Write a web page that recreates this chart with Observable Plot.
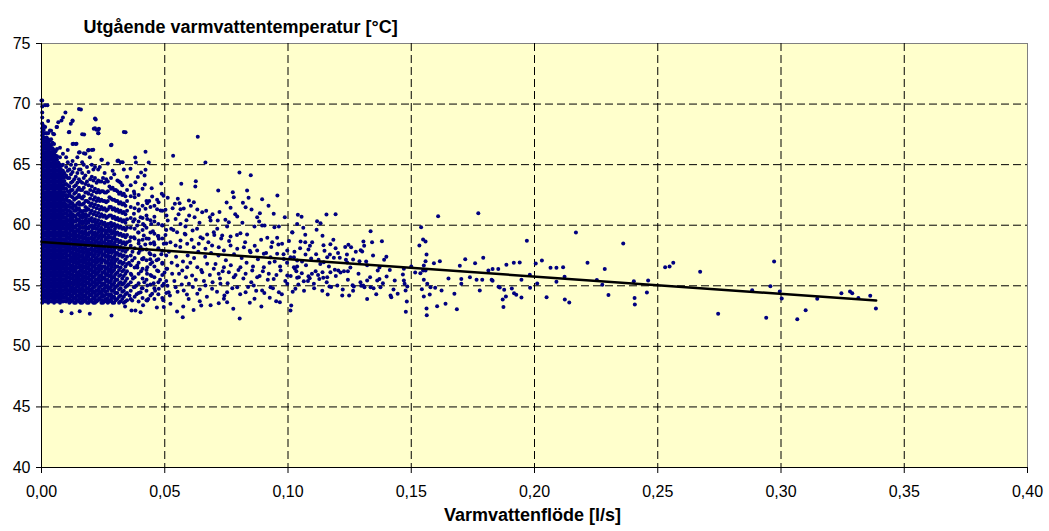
<!DOCTYPE html>
<html><head><meta charset="utf-8">
<script src="https://cdn.jsdelivr.net/npm/d3@7"></script>
<script src="https://cdn.jsdelivr.net/npm/@observablehq/plot@0.6"></script>
<style>body{margin:0;background:#fff;}</style>
</head><body><div id="chart"></div>
<script>
const xTicks = [0, 0.05, 0.10, 0.15, 0.20, 0.25, 0.30, 0.35, 0.40];
const yTicks = [40, 45, 50, 55, 60, 65, 70, 75];
const chartTitle = "Utgående varmvattentemperatur [°C]";
const xTitle = "Varmvattenflöde [l/s]";

// dense core near zero flow (read column by column)
const coreFlow = [0.0003, 0.0015, 0.0027, 0.0039, 0.0051, 0.0063, 0.0075, 0.0087];
const coreTemp = [
 [53.6,53.9,54.2,54.5,54.8,55.1,55.4,55.7,56.0,56.3,56.6,56.9,57.2,57.5,57.8,58.1,58.4,58.7,59.0,59.3,59.6,59.9,60.2,60.5,60.8,61.1,61.4,61.7,62.0,62.3,62.6,62.9,63.2,63.5,63.8,64.1,64.4,64.7,65.0,65.3,65.6,65.9,66.2,66.5,66.8,67.1,67.4,67.7,68.0,68.4,68.9,69.3,69.8,70.3],
 [53.7,54.0,54.3,54.6,54.9,55.2,55.5,55.8,56.1,56.4,56.7,57.0,57.3,57.6,57.9,58.2,58.5,58.8,59.1,59.4,59.7,60.0,60.3,60.6,60.9,61.2,61.5,61.8,62.1,62.4,62.7,63.0,63.3,63.6,63.9,64.2,64.5,64.8,65.1,65.4,65.7,66.0,66.3,66.6,66.9,67.2,67.6,68.1,69.9],
 [53.6,53.9,54.2,54.5,54.8,55.1,55.4,55.7,56.0,56.3,56.6,56.9,57.2,57.5,57.8,58.1,58.4,58.7,59.0,59.3,59.6,59.9,60.2,60.5,60.8,61.1,61.4,61.7,62.0,62.3,62.6,62.9,63.2,63.5,63.8,64.1,64.4,64.7,65.0,65.3,65.6,65.9,66.2,66.5,66.8,67.1,67.6,68.6],
 [53.7,54.0,54.3,54.6,54.9,55.2,55.5,55.8,56.1,56.4,56.7,57.0,57.3,57.6,57.9,58.2,58.5,58.8,59.1,59.4,59.7,60.0,60.3,60.6,60.9,61.2,61.5,61.8,62.1,62.4,62.7,63.0,63.3,63.6,63.9,64.2,64.5,64.8,65.1,65.4,65.7,66.0,66.3,66.6,67.1,67.8],
 [53.6,53.9,54.2,54.5,54.8,55.1,55.4,55.7,56.0,56.3,56.6,56.9,57.2,57.5,57.8,58.1,58.4,58.7,59.0,59.3,59.6,59.9,60.2,60.5,60.8,61.1,61.4,61.7,62.0,62.3,62.6,62.9,63.2,63.5,63.8,64.1,64.4,64.7,65.0,65.3,65.6,65.9,66.2,66.7,67.5],
 [53.7,54.0,54.3,54.6,54.9,55.2,55.5,55.8,56.1,56.4,56.7,57.0,57.3,57.6,57.9,58.2,58.5,58.8,59.1,59.4,59.7,60.0,60.3,60.6,60.9,61.2,61.5,61.8,62.1,62.4,62.7,63.0,63.3,63.6,63.9,64.2,64.5,64.8,65.1,65.4,65.7,66.3,68.1],
 [53.6,53.9,54.2,54.5,54.8,55.1,55.4,55.7,56.0,56.3,56.6,56.9,57.2,57.5,57.8,58.1,58.4,58.7,59.0,59.3,59.6,59.9,60.2,60.5,60.8,61.1,61.4,61.7,62.0,62.3,62.6,62.9,63.2,63.5,63.8,64.1,64.4,64.7,65.0,65.6,66.4],
 [53.7,54.0,54.3,54.6,54.9,55.2,55.5,55.8,56.1,56.4,56.7,57.0,57.3,57.6,57.9,58.2,58.5,58.8,59.1,59.4,59.7,60.0,60.3,60.6,60.9,61.2,61.5,61.8,62.1,62.4,62.7,63.0,63.3,63.6,63.9,64.2,64.5,65.0,65.9,68.9]
];

// dense core, interleaved columns
const coreFlowB = [0.0009, 0.0021, 0.0033, 0.0045, 0.0057, 0.0069, 0.0081, 0.0093];
const coreTempB = [
 [53.75,54.05,54.35,54.65,54.95,55.25,55.55,55.85,56.15,56.45,56.75,57.05,57.35,57.65,57.95,58.25,58.55,58.85,59.15,59.45,59.75,60.05,60.35,60.65,60.95,61.25,61.55,61.85,62.15,62.45,62.75,63.05,63.35,63.65,63.95,64.25,64.55,64.85,65.15,65.45,65.75,66.05,66.35,66.65,66.95,67.25,67.55,67.85,68.2],
 [53.75,54.05,54.35,54.65,54.95,55.25,55.55,55.85,56.15,56.45,56.75,57.05,57.35,57.65,57.95,58.25,58.55,58.85,59.15,59.45,59.75,60.05,60.35,60.65,60.95,61.25,61.55,61.85,62.15,62.45,62.75,63.05,63.35,63.65,63.95,64.25,64.55,64.85,65.15,65.45,65.75,66.05,66.35,66.65,66.95,67.25,67.6],
 [53.75,54.05,54.35,54.65,54.95,55.25,55.55,55.85,56.15,56.45,56.75,57.05,57.35,57.65,57.95,58.25,58.55,58.85,59.15,59.45,59.75,60.05,60.35,60.65,60.95,61.25,61.55,61.85,62.15,62.45,62.75,63.05,63.35,63.65,63.95,64.25,64.55,64.85,65.15,65.45,65.75,66.05,66.35,66.65,66.95],
 [53.75,54.05,54.35,54.65,54.95,55.25,55.55,55.85,56.15,56.45,56.75,57.05,57.35,57.65,57.95,58.25,58.55,58.85,59.15,59.45,59.75,60.05,60.35,60.65,60.95,61.25,61.55,61.85,62.15,62.45,62.75,63.05,63.35,63.65,63.95,64.25,64.55,64.85,65.15,65.45,65.75,66.05,66.35,66.8],
 [53.75,54.05,54.35,54.65,54.95,55.25,55.55,55.85,56.15,56.45,56.75,57.05,57.35,57.65,57.95,58.25,58.55,58.85,59.15,59.45,59.75,60.05,60.35,60.65,60.95,61.25,61.55,61.85,62.15,62.45,62.75,63.05,63.35,63.65,63.95,64.25,64.55,64.85,65.15,65.45,65.75,66.1],
 [53.75,54.05,54.35,54.65,54.95,55.25,55.55,55.85,56.15,56.45,56.75,57.05,57.35,57.65,57.95,58.25,58.55,58.85,59.15,59.45,59.75,60.05,60.35,60.65,60.95,61.25,61.55,61.85,62.15,62.45,62.75,63.05,63.35,63.65,63.95,64.25,64.55,64.85,65.15],
 [53.75,54.05,54.35,54.65,54.95,55.25,55.55,55.85,56.15,56.45,56.75,57.05,57.35,57.65,57.95,58.25,58.55,58.85,59.15,59.45,59.75,60.05,60.35,60.65,60.95,61.25,61.55,61.85,62.15,62.45,62.75,63.05,63.35,63.65,63.95,64.25,64.55,64.9],
 [53.75,54.05,54.35,54.65,54.95,55.25,55.55,55.85,56.15,56.45,56.75,57.05,57.35,57.65,57.95,58.25,58.55,58.85,59.15,59.45,59.75,60.05,60.35,60.65,60.95,61.25,61.55,61.85,62.15,62.45,62.75,63.05,63.35,63.65,63.95,64.3]
];

// thinning band at low flow, first set of columns
const bandFlow = [0.0100,0.0113,0.0126,0.0139,0.0152,0.0165,0.0178,0.0191,0.0204,0.0217,0.0230,0.0243,0.0256,0.0269,0.0282,0.0295,0.0308,0.0321,0.0334,0.0347,0.0362,0.0378,0.0394,0.0410,0.0426,0.0442,0.0458,0.0474,0.0490,0.0506];
const bandTemp = [
 [53.7,54.1,54.4,54.8,55.1,55.5,55.9,56.2,56.6,56.9,57.3,57.7,58.0,58.4,58.8,59.1,59.5,59.9,60.2,60.6,61.0,61.3,61.7,62.1,62.5,63.0,63.4,64.1,64.8,65.6],
 [53.6,53.9,54.3,54.6,55.0,55.4,55.7,56.1,56.4,56.8,57.1,57.5,57.9,58.2,58.6,58.9,59.3,59.7,60.0,60.4,60.8,61.2,61.5,62.0,62.6,63.2,63.9,64.6,67.7],
 [53.8,54.2,54.5,54.9,55.3,55.6,56.0,56.3,56.7,57.0,57.4,57.8,58.1,58.5,58.8,59.2,59.6,60.1,60.5,60.9,61.4,61.8,62.3,62.9,63.6,64.4,65.3,66.7,68.6],
 [53.6,54.0,54.4,54.7,55.2,55.5,55.9,56.3,56.6,57.0,57.4,57.7,58.1,58.5,58.9,59.3,59.8,60.3,60.7,61.2,61.6,62.2,62.7,63.3,64.0,65.0,66.7],
 [53.7,54.1,54.5,54.9,55.2,55.6,56.0,56.5,56.8,57.2,57.6,58.0,58.4,58.8,59.2,59.6,60.0,60.5,61.0,61.4,61.9,62.5,63.1,63.8,64.6,66.0,69.6],
 [53.6,54.0,54.3,54.8,55.1,55.5,55.9,56.3,56.7,57.1,57.5,57.9,58.4,58.7,59.1,59.5,60.1,60.6,61.1,61.7,62.2,62.9,63.5,64.3,65.2,67.5],
 [53.8,54.2,54.6,55.0,55.4,55.8,56.2,56.6,57.0,57.3,57.8,58.2,58.6,59.0,59.5,59.9,60.4,60.9,61.5,62.0,62.7,63.4,64.1,65.9],
 [53.6,54.0,54.5,54.8,55.3,55.7,56.1,56.5,56.9,57.4,57.8,58.3,58.7,59.2,59.7,60.2,60.8,61.3,61.9,62.6,63.3,64.4,66.2],
 [53.7,54.2,54.6,55.1,55.5,55.9,56.4,56.8,57.2,57.7,58.1,58.6,59.0,59.5,60.0,60.6,61.2,61.8,62.5,63.2,64.0,65.0,66.2],
 [53.6,54.0,54.4,54.9,55.3,55.8,56.2,56.7,57.1,57.6,58.0,58.5,59.0,59.4,60.0,60.5,61.1,61.7,62.3,63.0,63.9,64.8,68.0,68.8],
 [53.8,54.3,54.7,55.2,55.6,56.1,56.5,57.0,57.5,57.9,58.4,58.9,59.4,59.9,60.4,61.0,61.6,62.2,62.9,63.7,64.6,67.6,67.9],
 [53.6,54.1,54.5,55.0,55.5,55.9,56.4,56.9,57.3,57.8,58.3,58.8,59.3,59.8,60.3,60.9,61.5,62.1,62.8,63.6,65.4],
 [53.7,54.2,54.8,55.2,55.7,56.2,56.6,57.1,57.6,58.1,58.6,59.1,59.6,60.2,60.8,61.4,62.0,62.7,63.5,64.3],
 [53.6,54.0,54.6,55.0,55.5,56.0,56.5,57.0,57.5,58.0,58.5,59.0,59.6,60.1,60.7,61.3,62.0,62.8,63.6,65.1],
 [53.8,54.3,54.9,55.4,55.9,56.4,56.9,57.4,58.0,58.5,59.0,59.6,60.2,60.8,61.5,62.2,63.0,63.9,66.6],
 [53.6,54.1,54.7,55.2,55.7,56.3,56.8,57.3,57.9,58.4,59.0,59.5,60.1,60.7,61.4,62.1,62.9,64.2],
 [53.9,54.4,55.0,55.5,56.1,56.6,57.2,57.7,58.3,58.8,59.4,60.0,60.6,61.3,62.0,62.8,63.7,65.3],
 [53.7,54.2,54.8,55.3,55.9,56.5,57.0,57.6,58.2,58.7,59.3,59.9,60.5,61.2,61.9,62.7,63.5,65.2],
 [53.6,54.1,54.6,55.2,55.8,56.3,56.9,57.5,58.1,58.6,59.2,59.8,60.4,61.1,61.8,62.6,64.6,67.7],
 [53.8,54.4,55.0,55.6,56.2,56.8,57.4,58.0,58.6,59.2,59.8,60.5,61.2,62.0,62.9,64.0],
 [53.9,54.6,55.3,56.0,56.7,57.5,58.3,59.0,59.8,60.6,61.5,62.4,63.3],
 [54.1,54.9,55.7,56.5,57.3,58.1,58.9,59.7,60.5,61.4,62.3],
 [53.7,54.4,55.2,56.0,56.9,57.7,58.5,59.4,60.3,61.2,62.5],
 [54.0,54.8,55.6,56.4,57.2,58.0,58.8,59.6,60.6,61.6,63.0],
 [53.8,54.6,55.5,56.3,57.1,58.0,58.9,59.8,60.8,62.0],
 [54.2,55.1,55.9,56.8,57.6,58.5,59.4,60.4,61.5],
 [53.9,54.8,55.7,56.6,57.5,58.4,59.3,60.3,61.6],
 [54.3,55.3,56.2,57.2,58.1,59.1,60.1],
 [54.0,55.0,55.9,56.9,57.9,58.9,60.0,61.2],
 [54.4,55.4,56.4,57.5,58.5,59.6]
];

// thinning band, interleaved second set of columns
const bandFlowB = [0.01065,0.01195,0.01325,0.01455,0.01585,0.01715,0.01845,0.01975,0.02105,0.02235,0.02365,0.02495,0.02625,0.02755,0.02885,0.03015,0.03145,0.03275,0.03405];
const bandTempB = [
 [53.9,54.3,54.6,55.0,55.3,55.7,56.0,56.4,56.8,57.1,57.5,57.9,58.2,58.6,59.0,59.3,59.7,60.1,60.4,60.8,61.2,61.6,62.0,62.4,62.8,63.3,63.9,64.5,65.2,66.2],
 [53.7,54.1,54.5,54.8,55.2,55.6,55.9,56.3,56.6,57.0,57.3,57.7,58.1,58.5,58.8,59.2,59.6,59.9,60.3,60.7,61.1,61.5,61.9,62.4,62.9,63.5,64.2,65.0],
 [53.6,54.0,54.4,54.8,55.1,55.4,55.8,56.2,56.5,56.9,57.3,57.6,58.0,58.3,58.7,59.1,59.5,59.9,60.3,60.8,61.2,61.6,62.1,62.6,63.2,63.8,64.7],
 [53.8,54.2,54.6,55.0,55.4,55.8,56.1,56.5,56.9,57.3,57.6,58.0,58.4,58.7,59.1,59.6,60.0,60.4,60.9,61.3,61.8,62.3,62.9,63.5,64.3,65.6],
 [53.6,54.0,54.4,54.7,55.1,55.5,55.9,56.3,56.6,57.0,57.4,57.8,58.2,58.6,59.0,59.4,59.8,60.3,60.7,61.2,61.7,62.3,62.9,63.6,64.6],
 [53.7,54.1,54.6,55.0,55.4,55.7,56.1,56.5,56.9,57.3,57.7,58.1,58.5,58.9,59.3,59.8,60.2,60.7,61.2,61.8,62.4,63.1,63.9,65.0],
 [53.6,54.0,54.4,54.8,55.2,55.6,56.0,56.4,56.8,57.2,57.6,58.0,58.5,58.9,59.3,59.8,60.3,60.8,61.4,62.0,62.7,63.6,64.8],
 [53.8,54.3,54.7,55.1,55.5,55.9,56.3,56.8,57.2,57.6,58.0,58.5,58.9,59.4,59.9,60.4,61.0,61.6,62.2,62.9,63.8],
 [53.6,54.0,54.5,54.9,55.3,55.7,56.2,56.6,57.0,57.5,57.9,58.4,58.8,59.3,59.8,60.3,60.9,61.5,62.1,62.8,63.7,64.6],
 [53.7,54.2,54.6,55.1,55.5,56.0,56.4,56.9,57.3,57.8,58.2,58.7,59.2,59.7,60.2,60.8,61.4,62.0,62.7,63.5],
 [53.9,54.4,54.9,55.3,55.8,56.3,56.7,57.2,57.7,58.1,58.6,59.1,59.6,60.1,60.7,61.3,62.0,62.7,63.6,64.8],
 [53.6,54.1,54.6,55.1,55.6,56.1,56.6,57.1,57.6,58.1,58.6,59.1,59.6,60.1,60.7,61.3,62.0,62.8,63.9],
 [53.8,54.3,54.9,55.4,55.9,56.4,56.9,57.4,57.9,58.4,58.9,59.4,60.0,60.6,61.2,61.9,62.7,63.8],
 [53.7,54.2,54.8,55.3,55.8,56.3,56.8,57.4,57.9,58.4,59.0,59.5,60.1,60.8,61.5,62.3,63.2],
 [53.6,54.1,54.6,55.1,55.7,56.2,56.8,57.3,57.8,58.3,58.9,59.4,60.0,60.6,61.3,62.1,63.1,64.5],
 [53.8,54.4,54.9,55.5,56.0,56.6,57.1,57.7,58.2,58.8,59.3,59.9,60.5,61.2,62.0,62.9],
 [53.6,54.1,54.7,55.2,55.8,56.3,56.9,57.5,58.0,58.6,59.2,59.8,60.4,61.1,61.8,62.6,63.6],
 [53.9,54.5,55.1,55.6,56.2,56.8,57.4,57.9,58.5,59.1,59.7,60.3,61.0,61.7,62.5,63.3],
 [53.7,54.3,54.9,55.4,56.0,56.6,57.2,57.8,58.4,59.0,59.6,60.2,60.9,61.6,62.4]
];

// thinning band, third set of columns (fills the densest lower part)
const bandFlowC = [0.0103,0.0116,0.0129,0.0142,0.0155,0.0168,0.0181,0.0194,0.0207,0.0220,0.0233,0.0246,0.0259,0.0272,0.0285,0.0298];
const bandTempC = [
 [53.9,54.3,54.6,55.0,55.3,55.7,56.1,56.4,56.8,57.1,57.5,57.9,58.2,58.6,59.0,59.3,59.7,60.1,60.4,60.9,61.5,62.3],
 [53.8,54.1,54.5,54.8,55.2,55.6,55.9,56.3,56.6,57.0,57.3,57.7,58.1,58.4,58.8,59.1,59.5,59.9,60.2,60.6,61.0,61.8,62.8],
 [54.0,54.4,54.7,55.1,55.5,55.8,56.2,56.5,56.9,57.2,57.6,58.0,58.3,58.7,59.0,59.4,59.8,60.3,60.7,61.6],
 [53.8,54.2,54.6,54.9,55.4,55.7,56.1,56.5,56.8,57.2,57.6,57.9,58.3,58.7,59.1,59.5,60.0,60.5,61.4],
 [53.9,54.3,54.7,55.1,55.4,55.8,56.2,56.7,57.0,57.4,57.8,58.2,58.6,59.0,59.4,59.8,60.2,60.8,61.7],
 [53.8,54.2,54.5,55.0,55.3,55.7,56.1,56.5,56.9,57.3,57.7,58.1,58.6,58.9,59.3,59.8,60.3,60.9],
 [54.0,54.4,54.8,55.2,55.6,56.0,56.4,56.8,57.2,57.5,58.0,58.4,58.8,59.2,59.7,60.1,60.6,61.2],
 [53.8,54.2,54.7,55.0,55.5,55.9,56.3,56.7,57.1,57.6,58.0,58.5,58.9,59.4,59.9,60.5],
 [53.9,54.4,54.8,55.3,55.7,56.1,56.6,57.0,57.4,57.9,58.3,58.8,59.2,59.7,60.3],
 [53.8,54.2,54.6,55.1,55.5,56.0,56.4,56.9,57.3,57.8,58.2,58.7,59.2,59.7,60.2],
 [54.0,54.5,54.9,55.4,55.8,56.3,56.7,57.2,57.7,58.1,58.6,59.1,59.6,60.1],
 [53.8,54.3,54.7,55.2,55.7,56.1,56.6,57.1,57.5,58.0,58.5,59.0,59.5],
 [53.9,54.5,55.0,55.5,56.0,56.4,56.9,57.4,57.8,58.3,58.8,59.3,59.9],
 [53.8,54.3,54.8,55.3,55.8,56.2,56.7,57.2,57.7,58.2,58.7,59.2,59.8],
 [54.0,54.6,55.1,55.6,56.1,56.6,57.1,57.7,58.2,58.7,59.3,59.9],
 [53.9,54.4,54.9,55.4,55.9,56.5,57.0,57.5,58.1,58.6,59.2,59.7]
];

// individually read points [flow, temperature]
const scatterPoints = [
 [0.0,70.3],[0.0024,69.9],[0.0097,69.3],[0.016,69.55],[0.0068,68.5],[0.0081,68.64],[0.0119,68.37],[0.0126,68.64],[0.022,68.73],[0.0212,67.96],[0.0223,67.88],[0.0233,67.96],[0.0231,67.6],[0.0111,67.68],[0.0173,67.49],[0.0284,66.64],[0.0341,67.68],[0.0034,67.82],[0.0047,67.55],[0.0061,68.1],[0.0129,66.72],[0.0142,66.72],[0.0155,66.03],[0.0172,65.95],[0.0189,66.17],[0.021,66.23],[0.0196,65.61],[0.0245,65.4],[0.0311,65.34],[0.0329,65.2],
 [0.0081,52.9],[0.0122,52.74],[0.0155,52.9],[0.0196,52.69],[0.0284,52.55],[0.0365,52.96],
 [0.0352,55.1],[0.0355,56.9],[0.0358,58.7],[0.0357,54.2],[0.0365,55.9],[0.0369,57.8],[0.0384,55.0],[0.0389,56.5],[0.0392,59.4],[0.0402,58.2],[0.0407,54.8],[0.0414,57.3],[0.0428,56.0],[0.0441,57.2],[0.0455,55.2],
 [0.0634,67.3],[0.0534,65.73],[0.0422,66.06],[0.038,65.59],[0.0383,65.18],[0.0435,65.18],[0.0665,65.18],[0.0361,64.66],[0.0404,64.35],[0.0422,64.57],[0.0391,63.97],[0.0418,64.1],[0.0381,63.55],[0.0803,64.35],[0.0849,64.13],[0.0419,63.36],[0.0447,63.05],[0.0567,63.42],[0.0626,63.63],[0.0624,63.2],[0.0486,63.44],[0.0375,62.78],[0.0377,62.59],[0.0717,62.86],[0.0776,62.73],[0.078,62.31],[0.0834,62.86],[0.084,62.26],[0.0895,62.15],[0.0957,62.45],[0.0449,62.37],[0.0469,62.1],[0.0488,62.59],[0.0495,62.43],[0.0512,62.26],[0.0553,62.18],[0.056,61.82],[0.0598,62.04],[0.0618,61.9],[0.0751,61.88],[0.0817,61.85],[0.0828,61.49],[0.0767,61.44],[0.0391,61.77],[0.0429,61.82],[0.0422,61.36],[0.0469,61.32],[0.0483,61.21],[0.0503,61.27],[0.0541,61.77],[0.0564,61.32],[0.0577,61.38],[0.0632,61.3],[0.0652,61.08],[0.0599,60.8],[0.0621,60.66],[0.0875,60.66],[0.0886,60.99],[0.0942,60.94],[0.0987,60.66],[0.0683,60.66],[0.0686,60.39],[0.0715,60.39],[0.0746,60.45],[0.076,60.25],[0.0794,60.72],[0.0375,60.94],[0.0402,60.66],[0.0429,60.52],[0.0445,60.11],[0.0418,59.98],[0.0388,59.98],[0.049,59.98],[0.0512,60.39],[0.0544,60.52],[0.0564,60.11],[0.0584,59.89],[0.0526,59.7],[0.055,59.42],[0.0584,59.23],[0.0613,59.56],[0.0645,59.01],[0.0672,59.23],[0.0699,59.42],[0.0713,59.7],[0.0733,59.15],[0.0767,59.07],[0.0753,59.89],[0.0807,59.34],[0.0834,59.23],[0.0864,59.89],[0.0895,59.98],[0.0905,59.98],[0.0945,59.84],[0.0963,59.89],[0.0916,58.96],[0.0936,58.6],[0.0956,58.96],[0.0976,58.47],[0.0997,57.91],[0.1017,59.42],[0.1037,60.11],
 [0.0375,59.01],[0.0395,58.74],[0.0415,59.15],[0.0435,58.88],[0.0456,58.6],[0.0476,58.88],[0.0496,58.47],[0.0523,58.6],[0.0544,58.33],[0.0564,58.74],[0.0591,58.47],[0.0618,58.18],[0.0638,58.47],[0.0665,58.05],[0.0692,58.33],[0.0719,58.18],[0.074,57.91],[0.0767,58.33],[0.0794,58.05],[0.0821,58.18],[0.0848,57.77],[0.0875,57.91],[0.0902,57.64],[0.0929,57.36],[0.0956,57.64],[0.0983,57.22],[0.101,57.36],[0.1037,57.09],
 [0.0368,57.09],[0.0388,56.67],[0.0408,57.22],[0.0429,56.54],[0.0449,56.95],[0.0469,56.26],[0.049,56.81],[0.051,56.4],[0.053,55.99],[0.0551,56.67],[0.0571,56.26],[0.0591,56.54],[0.0611,55.85],[0.0632,56.54],[0.0652,56.12],[0.0672,56.81],[0.0699,56.4],[0.0719,55.99],[0.074,56.54],[0.076,56.12],[0.078,55.71],[0.0807,56.54],[0.0828,55.99],[0.0855,56.26],[0.0875,55.71],[0.0902,56.54],[0.0922,55.99],[0.0942,55.57],[0.097,56.26],[0.0997,55.85],[0.1024,56.54],[0.1044,55.71],
 [0.0375,54.88],[0.0402,54.47],[0.0429,55.02],[0.0449,54.34],[0.0476,54.75],[0.0496,55.16],[0.0516,54.47],[0.0544,54.88],[0.0577,54.61],[0.0598,55.16],[0.0632,54.34],[0.0665,55.02],[0.0692,54.75],[0.0726,55.16],[0.0753,54.47],[0.0794,54.88],[0.0828,54.47],[0.0861,55.02],[0.0895,54.61],[0.0929,54.88],[0.0963,54.47],[0.0997,55.16],[0.103,54.75],
 [0.0496,53.24],[0.0523,53.51],[0.055,52.88],[0.0573,52.41],[0.059,54.28],[0.0642,53.73],[0.0648,53.37],[0.0719,53.56],[0.074,53.92],[0.0753,53.64],[0.0804,52.3],[0.0864,53.92],[0.0926,54.01],[0.0952,53.73],[0.0967,53.64],[0.1013,53.37],[0.101,52.96],[0.0402,52.82],[0.0381,52.96],[0.0368,53.78],[0.0429,53.78],
 [0.0371,55.6],[0.0386,54.3],[0.0399,57.9],[0.0404,56.2],[0.0417,55.3],[0.0421,58.4],[0.0433,53.9],[0.0438,57.7],[0.0447,55.8],[0.0452,59.5],[0.0461,54.6],[0.0467,57.1],[0.0472,59.1],[0.0481,55.5],[0.0486,57.6],[0.0494,53.8],[0.0499,56.1],[0.0503,59.2],[0.0511,55.0],[0.0517,57.8],[0.0521,54.2],[0.0528,56.9],[0.0535,59.6],[0.0539,55.4],[0.0546,57.4],[0.0552,54.5],[0.0558,56.0],[0.0563,58.2],[0.0569,55.1],[0.0574,57.0],[0.0581,59.3],[0.0586,55.7],[0.0593,57.5],[0.0597,53.9],[0.0604,56.9],[0.0609,58.8],[0.0614,54.9],[0.0619,57.3],[0.0626,55.5],[0.0631,59.7],[0.0636,57.8],[0.0642,54.7],[0.0648,56.3],[0.0654,58.9],[0.0659,55.4],[0.0664,57.4],[0.0671,54.1],[0.0677,58.6],[0.0683,55.9],[0.0688,57.7],[0.0694,55.3],[0.0701,59.2],[0.0706,56.8],[0.0712,54.5],[0.0718,57.5],[0.0724,55.6],[0.0729,58.9],[0.0735,56.2],[0.0742,54.2],[0.0748,57.1],[0.0755,55.2],[0.0761,58.7],[0.0768,56.7],[0.0774,54.8],[0.0781,57.6],[0.0787,55.9],[0.0793,59.2],[0.0799,56.3],[0.0806,54.3],[0.0812,57.3],[0.0819,55.6],[0.0826,58.6],[0.0832,56.9],[0.0838,54.9],[0.0845,57.9],[0.0851,55.3],[0.0858,56.6],[0.0865,58.3],[0.0871,54.6],[0.0878,57.2],[0.0885,55.8],[0.0891,58.8],[0.0898,56.2],[0.0904,54.4],[0.0911,57.7],[0.0918,55.5],[0.0925,56.9],[0.0932,58.2],[0.0939,54.8],[0.0946,57.0],[0.0953,55.9],[0.0961,58.4],[0.0968,56.6],[0.0975,54.3],[0.0982,57.6],[0.0989,55.4],[0.0996,56.9],[0.1004,58.7],[0.1011,55.8],[0.1019,54.5],[0.1026,57.8],[0.1034,56.2],[0.1042,55.1],[0.1049,58.1],[0.1057,57.0],[0.1065,54.6],[0.1073,56.7],[0.1081,55.4],[0.1089,58.3],[0.1097,56.0],[0.1106,54.8],[0.1114,57.6],[0.1122,55.9],[0.1131,56.8],[0.1139,54.6],[0.1148,57.9],[0.1157,55.3],[0.1166,56.6],[0.1175,54.9],[0.1184,58.8],[0.1194,55.8],[0.1203,57.7],[0.1213,56.1],[0.1222,54.7],[0.1232,58.2],[0.1243,55.5],[0.1253,56.5],[0.1264,54.6],[0.1275,57.8],[0.1286,56.0],[0.1297,55.0],[0.1309,58.3],[0.1321,56.7],[0.1333,55.7],[0.1345,57.5],[0.1358,54.3],[0.1371,56.5],[0.1385,55.2],[0.1399,57.4],[0.1413,56.3],[0.1428,54.7],
 [0.0372,60.3],[0.0396,61.3],[0.0412,60.1],[0.0437,62.0],[0.0458,60.7],[0.0475,61.9],[0.0507,60.8],[0.0532,61.4],[0.0556,60.9],[0.0588,60.4],[0.0606,61.6],[0.0641,60.2],[0.0668,61.2],[0.0694,60.9],[0.0722,61.1],[0.0786,60.9],[0.0815,60.2],[0.0852,61.3],[0.0883,60.3],[0.0921,61.6],
 [0.0339,53.3],[0.0412,53.4],[0.0468,53.2],[0.0575,53.3],[0.0617,53.0],[0.0686,53.4],[0.0778,53.1],[0.0845,53.6],[0.0892,53.3],
 [0.104,60.86],[0.1055,60.69],[0.1156,60.88],[0.1193,60.91],[0.1018,59.4],[0.1062,59.79],[0.1118,60.33],[0.1132,60.17],[0.1116,59.62],[0.107,59.21],[0.114,59.13],[0.1051,58.66],[0.107,58.6],[0.1098,58.6],[0.1144,58.35],[0.1172,58.43],[0.1193,58.1],[0.1083,57.99],[0.1245,58.38],[0.1256,58.18],[0.1239,57.58],[0.1295,57.94],[0.1301,57.83],[0.1335,59.51],[0.1306,58.66],[0.1341,58.6],[0.1381,58.68],[0.139,57.15],[0.1024,57.36],[0.1037,56.59],[0.1028,56.4],[0.1071,57.58],[0.1094,57.25],[0.1124,57.15],[0.1145,56.95],[0.117,57.58],[0.1159,57.36],[0.1186,57.31],[0.121,57.31],[0.1235,57.15],[0.124,56.92],[0.1264,57.17],[0.129,57.03],[0.1317,57.0],[0.119,56.32],[0.1204,56.26],[0.1227,56.21],[0.1243,56.21],[0.1172,56.12],[0.114,56.12],[0.1112,56.21],[0.1056,56.04],[0.1037,55.66],[0.1083,55.79],[0.1088,55.63],[0.1064,55.38],[0.1105,55.16],[0.1127,55.57],[0.1143,55.66],[0.1159,55.71],[0.1168,54.94],[0.1161,54.28],[0.12,55.02],[0.122,54.2],[0.1248,54.2],[0.1262,55.05],[0.1267,54.94],[0.1294,55.3],[0.1305,55.02],[0.131,54.88],[0.1321,55.44],[0.1321,53.9],[0.1335,54.88],[0.1347,54.8],[0.1362,55.44],[0.1371,55.57],[0.1375,54.88],[0.1364,56.26],[0.14,55.77],[0.1416,54.2],[0.1419,54.06],[0.1433,55.44],[0.1445,54.34],[0.147,55.44],[0.1473,55.16],[0.1466,55.93],[0.147,56.4],[0.1477,54.61],[0.1484,54.94],[0.1482,53.7],[0.1478,52.85],[0.15,56.59],[0.1516,56.1],[0.1533,58.32],[0.154,59.84],[0.1548,58.82],[0.1558,58.66],[0.1562,57.58],[0.1558,57.03],[0.1551,56.67],[0.1548,56.26],[0.1537,56.04],[0.1558,56.26],[0.1551,55.5],[0.1543,54.72],[0.1565,55.16],[0.1551,54.12],[0.1575,54.28],[0.1562,53.12],[0.1563,52.57],[0.1578,54.88],[0.1597,54.83],[0.1592,56.87],[0.1616,57.03],[0.1609,60.74],[0.1623,54.61],[0.1605,53.32],[0.1639,53.51],[0.1651,55.6],[0.1675,54.34],[0.1685,53.07],[0.1697,56.65],[0.1703,55.57],[0.1703,55.16],[0.1719,57.19],[0.1738,55.71],[0.1759,56.87],[0.1772,60.99],[0.1765,55.5],[0.1788,55.5],[0.1778,54.61],[0.1792,57.31],[0.1813,56.26],
 [0.183,56.38],[0.1853,56.38],[0.1826,55.5],[0.183,55.41],[0.1854,54.92],[0.1859,54.86],[0.1886,56.73],[0.1916,56.9],[0.194,56.92],[0.1969,58.71],[0.1877,54.67],[0.1908,54.78],[0.1917,54.39],[0.1926,54.26],[0.1871,53.87],[0.1884,54.12],[0.1874,53.24],[0.1947,54.03],[0.1947,55.5],[0.1981,55.91],[0.1982,54.84],[0.2005,56.84],[0.2011,55.19],[0.203,57.09],[0.2049,54.06],[0.2065,56.48],[0.2089,56.48],[0.2089,55.33],[0.2116,56.54],[0.2122,55.74],[0.2123,53.87],[0.2141,53.62],[0.2168,59.4],[0.2215,56.9],[0.2253,55.47],[0.2275,55.08],[0.2285,56.38],[0.23,54.23],[0.236,58.49],[0.2403,55.38],[0.2406,54.0],[0.2407,53.45],[0.2456,54.44],[0.2461,55.44],[0.253,56.54],[0.2548,56.59],[0.2563,56.9],
 [0.2672,56.15],[0.2745,52.69],[0.2972,57.0],[0.2957,54.97],[0.2883,54.64],[0.294,52.36],[0.2995,54.53],[0.3003,53.95],[0.3066,52.24],[0.310,52.98],[0.3147,53.92],[0.3245,54.39],[0.328,54.53],[0.3289,54.39],[0.3314,54.0],[0.3362,54.17],[0.3385,53.12]
];

// linear trend line
const trendFlow = [0, 0.3386];
const trendTemp = [58.62, 53.78];

const points = [];
coreFlow.forEach((x, i) => coreTemp[i].forEach(y => points.push({x, y})));
coreFlowB.forEach((x, i) => coreTempB[i].forEach(y => points.push({x, y})));
bandFlow.forEach((x, i) => bandTemp[i].forEach(y => points.push({x, y})));
bandFlowB.forEach((x, i) => bandTempB[i].forEach(y => points.push({x, y})));
bandFlowC.forEach((x, i) => bandTempC[i].forEach(y => points.push({x, y})));
scatterPoints.forEach(([x, y]) => points.push({x, y}));
const trend = trendFlow.map((x, i) => ({x, y: trendTemp[i]}));

const fmt = d => d.toFixed(2).replace(".", ",");

const chart = Plot.plot({
  width: 1049, height: 531,
  marginLeft: 41, marginRight: 22, marginTop: 43, marginBottom: 64,
  style: {fontFamily: "'Liberation Sans', Arial, sans-serif", fontSize: "16px", color: "#000", background: "#fff"},
  x: {domain: [0, 0.4]},
  y: {domain: [40, 75]},
  marks: [
    Plot.frame({fill: "#FFFFCC", stroke: "#808080"}),
    Plot.ruleX(xTicks.slice(1, -1), {stroke: "#000", strokeDasharray: "8,4"}),
    Plot.ruleY(yTicks.slice(1, -1), {stroke: "#000", strokeDasharray: "8,4"}),
    Plot.dot(points, {x: "x", y: "y", r: 2, fill: "#000080", stroke: "none"}),
    Plot.line(trend, {x: "x", y: "y", stroke: "#000", strokeWidth: 2.5}),
    Plot.ruleX([0], {stroke: "#000"}),
    Plot.ruleY([40], {stroke: "#000"}),
    Plot.axisX(xTicks, {tickSize: 6, tickPadding: 12, tickFormat: fmt, label: null, fontSize: 16}),
    Plot.axisY(yTicks, {tickSize: 5, tickPadding: 6, label: null, fontSize: 16}),
    Plot.text([chartTitle], {text: d => d, frameAnchor: "top-left", dx: 42, dy: -22.8, textAnchor: "start", fontSize: 18, fontWeight: "bold"}),
    Plot.text([xTitle], {text: d => d, frameAnchor: "bottom", dx: -2, dy: 53.9, fontSize: 18, fontWeight: "bold"})
  ]
});
document.getElementById("chart").appendChild(chart);
</script>
</body></html>
